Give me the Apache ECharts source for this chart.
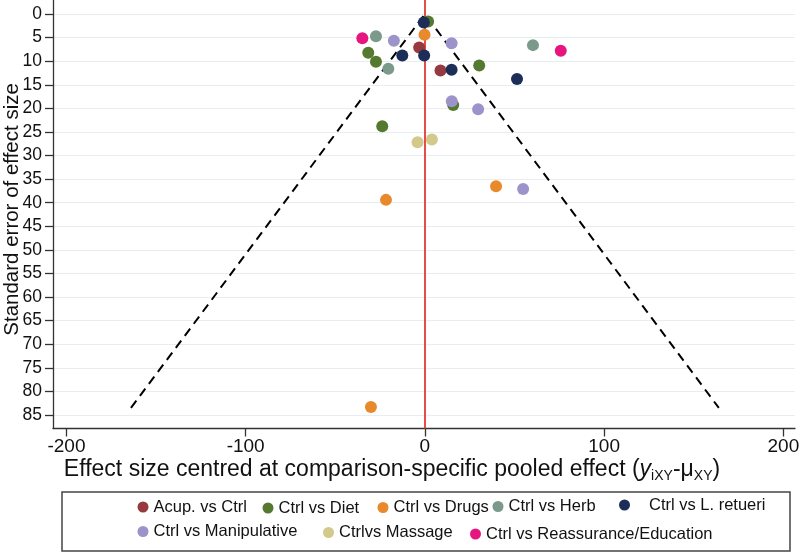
<!DOCTYPE html>
<html>
<head>
<meta charset="utf-8">
<script src="https://cdn.jsdelivr.net/npm/echarts@6/dist/echarts.min.js"></script>
<style>
html,body{margin:0;padding:0;background:#fff;}
#c{width:800px;height:553px;}
</style>
</head>
<body>
<div id="c"></div>
<script>
// ---- data ----
const seriesNames = ["Acup. vs Ctrl","Ctrl vs Diet","Ctrl vs Drugs","Ctrl vs Herb","Ctrl vs L. retueri","Ctrl vs Manipulative","Ctrlvs Massage","Ctrl vs Reassurance/Education"];
const seriesColors = ["#963a40","#55792f","#e8892c","#7b9a8c","#1c2d57","#9d93cb","#d2c98a","#e6157f"];
// effect (x) and standard error (y) per comparison
const acupX = [-3.2, 8.7];
const acupY = [7.1, 12.0];
const dietX = [1.8, -31.6, -27.3, 30.3, 15.8, -23.8];
const dietY = [1.6, 8.2, 10.1, 10.9, 19.3, 23.8];
const drugsX = [-0.2, 39.7, -21.7, -30.1];
const drugsY = [4.4, 36.5, 39.4, 83.3];
const herbX = [-27.3, 60.3, -20.4];
const herbY = [4.7, 6.6, 11.6];
const reuteriX = [-0.6, -12.6, -0.4, 14.9, 51.4];
const reuteriY = [1.8, 8.8, 8.8, 11.8, 13.8];
const manipX = [-17.3, 14.9, 15.0, 29.7, 54.8];
const manipY = [5.65, 6.2, 18.5, 20.2, 37.1];
const massageX = [-4.1, 3.9];
const massageY = [27.2, 26.6];
const reassX = [-34.9, 75.8];
const reassY = [5.15, 7.8];
// pseudo 95% confidence funnel
const funnelX = [-164, 0, 164];
const funnelY = [83.5, 0, 83.5];
const xTicks = [-200, -100, 0, 100, 200];

const groupsX = [acupX, dietX, drugsX, herbX, reuteriX, manipX, massageX, reassX];
const groupsY = [acupY, dietY, drugsY, herbY, reuteriY, manipY, massageY, reassY];

const zip = (xs, ys) => xs.map((x, i) => [x, ys[i]]);

const FONT = "Liberation Sans, Arial, Helvetica, sans-serif";

const scatterSeries = seriesNames.map((n, i) => ({
  name: n,
  type: 'scatter',
  data: zip(groupsX[i], groupsY[i]),
  symbol: 'circle',
  symbolSize: 12,
  itemStyle: { color: seriesColors[i], opacity: 1 },
  z: 5
}));

// legend positions (one legend per entry, as in the reference key)
const legendPos = [
  {left: 137.5, top: 498.5},
  {left: 262.5, top: 499.5},
  {left: 377.5, top: 499},
  {left: 492.5, top: 498},
  {left: 619, top: 496.5},
  {left: 137.5, top: 523},
  {left: 323, top: 524},
  {left: 470, top: 525.5}
];
const legends = seriesNames.map((n, i) => ({
  data: [n],
  left: legendPos[i].left,
  top: legendPos[i].top,
  orient: 'horizontal',
  padding: 0,
  itemWidth: 11,
  itemHeight: 11,
  icon: 'circle',
  selectedMode: false,
  textStyle: Object.assign({ fontFamily: FONT, fontSize: 16.5, color: '#111' },
    i === 4 ? { padding: [0, 0, 5, 14] } : {})
}));

const chart = echarts.init(document.getElementById('c'), null, {renderer: 'canvas'});
chart.setOption({
  animation: false,
  backgroundColor: '#fff',
  legend: legends,
  grid: { left: 53, right: 5, top: -9.6, bottom: 124.5, containLabel: false, outerBoundsMode: 'none' },
  xAxis: {
    type: 'value',
    min: -207.5,
    max: 206.5,
    axisLine: { show: true, onZero: false, lineStyle: { color: '#333', width: 1.3 } },
    axisTick: { show: true, length: 8, customValues: xTicks, lineStyle: { color: '#333', width: 1.3 } },
    axisLabel: { customValues: xTicks, fontFamily: FONT, fontSize: 19, color: '#111', margin: 9 },
    splitLine: { show: false },
    name: '{n|Effect size centred at comparison-specific pooled effect (}{it|y}{sub|iXY}{n|-μ}{sub|XY}{n|)}',
    nameLocation: 'middle',
    nameGap: 27,
    nameMoveOverlap: false,
    nameTextStyle: {
      fontFamily: FONT, fontSize: 23, color: '#111',
      padding: [0, 64, 0, 0],
      rich: {
        n: { fontFamily: FONT, fontSize: 23, color: '#111', lineHeight: 28 },
        it: { fontFamily: FONT, fontSize: 23, fontStyle: 'italic', color: '#111', lineHeight: 28 },
        sub: { fontFamily: FONT, fontSize: 14, color: '#111', lineHeight: 13, verticalAlign: 'bottom' }
      }
    }
  },
  yAxis: {
    type: 'value',
    inverse: true,
    min: -5,
    max: 87.86,
    interval: 5,
    axisLine: { show: true, onZero: false, lineStyle: { color: '#333', width: 1.3 } },
    axisTick: { show: true, length: 8, lineStyle: { color: '#333', width: 1.3 } },
    axisLabel: {
      fontFamily: FONT, fontSize: 17.5, color: '#111', margin: 11,
      formatter: v => (v < 0 ? '' : String(v))
    },
    splitLine: { show: true, lineStyle: { color: '#e7eef2', width: 1.2 } },
    name: 'Standard error of effect size',
    nameLocation: 'middle',
    nameGap: 30,
    nameMoveOverlap: false,
    nameTextStyle: { fontFamily: FONT, fontSize: 20.5, color: '#111' }
  },
  graphic: [{
    type: 'rect',
    shape: { x: 62, y: 492, width: 728, height: 59 },
    style: { fill: 'none', stroke: '#444', lineWidth: 1.5 },
    silent: true
  }],
  series: [
    {
      name: 'funnel',
      type: 'line',
      data: zip(funnelX, funnelY),
      symbol: 'none',
      lineStyle: { color: '#000', width: 2, type: [9, 6] },
      z: 3,
      silent: true,
      markLine: {
        silent: true,
        symbol: 'none',
        label: { show: false },
        lineStyle: { color: '#e33a35', width: 1.8, type: 'solid' },
        data: [{ xAxis: 0 }]
      }
    }
  ].concat(scatterSeries)
});
</script>
</body>
</html>
